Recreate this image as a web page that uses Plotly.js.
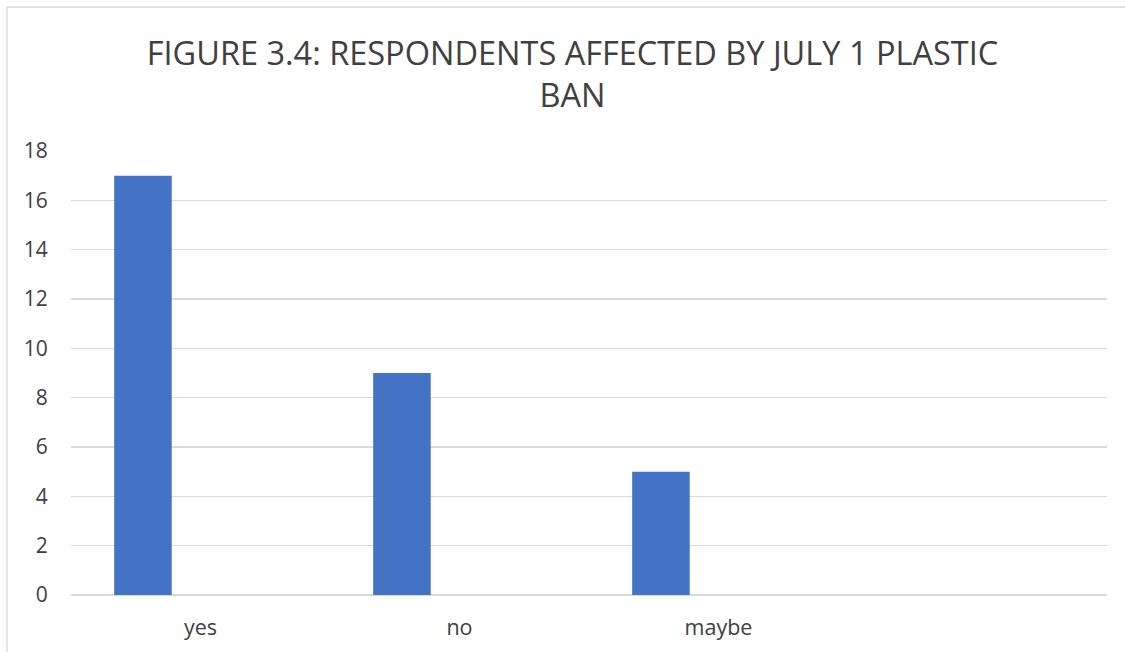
<!DOCTYPE html>
<html>
<head>
<meta charset="utf-8">
<script src="https://cdn.plot.ly/plotly-3.0.1.min.js"></script>
<style>
  html, body { margin: 0; padding: 0; background: #ffffff; }
  #chart { width: 1125px; height: 652px; }
</style>
</head>
<body>
<div id="chart"></div>
<script>
// Survey answers and how many respondents gave each one
const categories = ["yes", "no", "maybe"];
const respondents = [17, 9, 5];
const yTicks = [0, 2, 4, 6, 8, 10, 12, 14, 16, 18];

// Four category slots on the axis (the last one is left empty)
const slotCount = 4;
const positions = categories.map((_, i) => i);

const FONT = "'Open Sans', 'Noto Sans', sans-serif";
const TEXT = "#404040";
const GRID = "#d9d9d9";

// Column width as in a clustered layout: three series plus a 150% gap
const barWidth = 1 / 4.5;

const trace = {
  type: "bar",
  x: positions,
  y: respondents,
  width: barWidth,
  offset: -1.5 * barWidth,
  marker: { color: "#4472C4", line: { width: 0 } },
  hoverinfo: "x+y",
  showlegend: false
};

const layout = {
  width: 1125,
  height: 652,
  margin: { l: 71, r: 18, t: 151, b: 57, pad: 0 },
  paper_bgcolor: "#ffffff",
  plot_bgcolor: "#ffffff",
  font: { family: FONT, color: TEXT },
  title: {
    text: "FIGURE 3.4: RESPONDENTS AFFECTED BY JULY 1 PLASTIC<br>BAN",
    font: { family: FONT, size: 32.5, color: TEXT },
    x: 572.5 / 1125,
    xanchor: "center",
    xref: "container",
    y: 1 - 65 / 652,
    yref: "container",
    yanchor: "top"
  },
  xaxis: {
    range: [-0.5, slotCount - 0.5],
    tickmode: "array",
    tickvals: positions,
    ticktext: categories,
    showgrid: false,
    zeroline: false,
    showline: false,
    ticks: "outside",
    ticklen: 13,
    tickcolor: "rgba(0,0,0,0)",
    tickfont: { family: FONT, size: 21.5, color: TEXT },
    fixedrange: true
  },
  yaxis: {
    range: [0, 18],
    tickmode: "array",
    tickvals: yTicks,
    showgrid: true,
    gridcolor: GRID,
    gridwidth: 1.3,
    zeroline: true,
    zerolinecolor: GRID,
    zerolinewidth: 1.3,
    showline: false,
    ticks: "outside",
    ticklen: 18,
    tickcolor: "rgba(0,0,0,0)",
    tickfont: { family: FONT, size: 21, color: TEXT },
    fixedrange: true
  },
  shapes: [{
    // chart-area frame
    type: "rect",
    xref: "paper",
    yref: "paper",
    x0: (7 - 71) / 1036,
    x1: (1140 - 71) / 1036,
    y0: (595 - 670) / 444,
    y1: (595 - 7) / 444,
    line: { color: GRID, width: 1.3 },
    fillcolor: "rgba(0,0,0,0)",
    layer: "below"
  }]
};

Plotly.newPlot("chart", [trace], layout, { displayModeBar: false, staticPlot: true });
</script>
</body>
</html>
